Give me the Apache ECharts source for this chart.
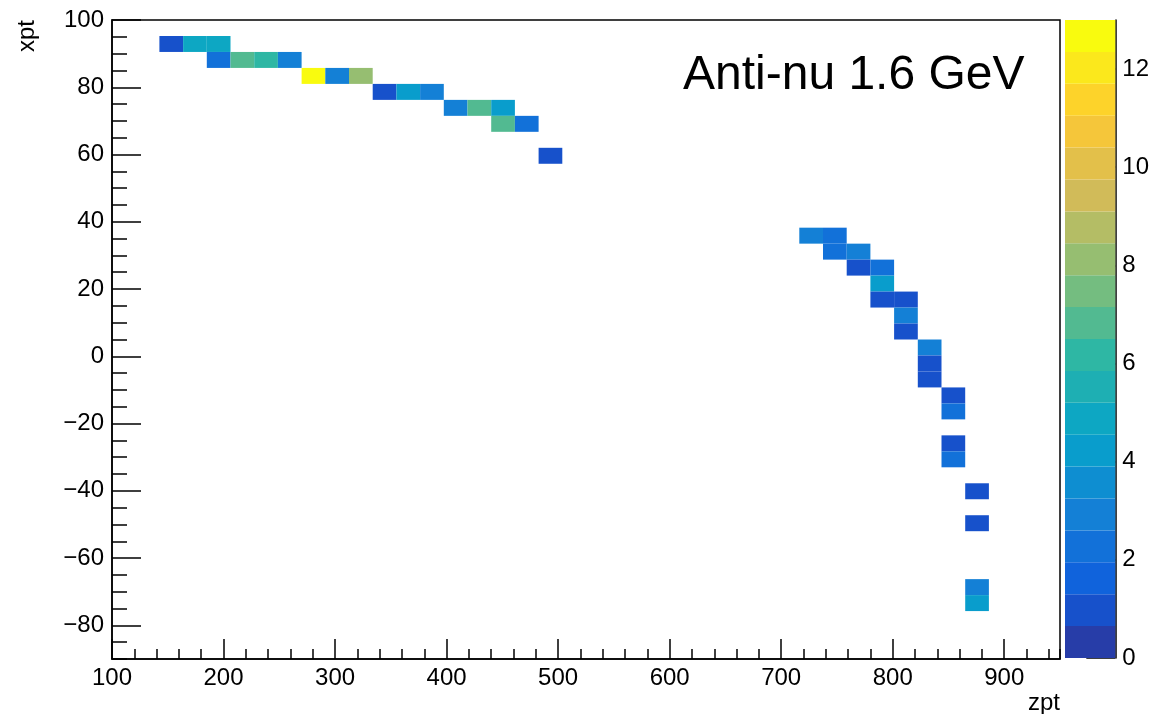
<!DOCTYPE html>
<html>
<head>
<meta charset="utf-8">
<title>Anti-nu 1.6 GeV</title>
<script src="https://cdn.jsdelivr.net/npm/echarts@6/dist/echarts.min.js"></script>
<style>
  html, body { margin: 0; padding: 0; background: #fff; }
  #chart { width: 1152px; height: 714px; }
</style>
</head>
<body>
<div id="chart"></div>
<script>
// Histogram binning: zpt on the horizontal axis, xpt on the vertical axis
const zptMin = 100, zptMax = 950, zptBins = 40;
const xptMin = -90, xptMax = 100, xptBins = 40;

// Filled bins: zpt bin index, xpt bin index, entries
const cellZBin = [2, 3, 4, 4, 5, 6, 7, 8, 9, 10, 11, 12, 13, 14, 15, 16, 16, 17, 18,
  29, 30, 30, 31, 31, 32, 32, 32, 33, 33, 33, 34, 34, 34, 35, 35, 35, 35, 36, 36, 36, 36];
const cellXBin = [38, 38, 38, 37, 37, 37, 37, 36, 36, 36, 35, 35, 35, 34, 34, 34, 33, 33, 31,
  26, 26, 25, 25, 24, 24, 23, 22, 22, 21, 20, 19, 18, 17, 16, 15, 13, 12, 10, 8, 4, 3];
const cellCount = [1, 5, 5, 2, 7, 6, 3, 13, 3, 8, 1, 4, 3, 3, 7, 4, 7, 2, 1,
  3, 2, 2, 3, 1, 2, 4, 1, 1, 3, 1, 3, 1, 1, 1, 2, 1, 2, 1, 1, 3, 4];

// Axis tick labels
const zptMajorTicks = [100, 200, 300, 400, 500, 600, 700, 800, 900];
const xptMajorTicks = [-80, -60, -40, -20, 0, 20, 40, 60, 80, 100];
const countTicks = [0, 2, 4, 6, 8, 10, 12];

// Colour scale
const countMax = 13;
const nContours = 20;

// "Bird" palette stops
const birdStops = [0, 0.125, 0.25, 0.375, 0.5, 0.625, 0.75, 0.875, 1];
const birdR = [0.2082, 0.0592, 0.0780, 0.0232, 0.1802, 0.5301, 0.8186, 0.9956, 0.9764];
const birdG = [0.1664, 0.3599, 0.5041, 0.6419, 0.7178, 0.7492, 0.7328, 0.7862, 0.9832];
const birdB = [0.5293, 0.8684, 0.8385, 0.7914, 0.6425, 0.4662, 0.3499, 0.1968, 0.0539];

function birdColor(p) {
  let s = 0;
  while (s < birdStops.length - 2 && p > birdStops[s + 1]) s++;
  const t = (p - birdStops[s]) / (birdStops[s + 1] - birdStops[s]);
  const mix = (a) => Math.round(255 * (a[s] + (a[s + 1] - a[s]) * t));
  return 'rgb(' + mix(birdR) + ',' + mix(birdG) + ',' + mix(birdB) + ')';
}
function bandColor(k) {
  const idx = Math.floor((k + 0.99) * 255 / nContours);
  return birdColor(idx / 254);
}
function countColor(v) {
  const k = Math.min(nContours - 1, Math.floor(v * nContours / countMax + 1e-9));
  return bandColor(k);
}

const zW = (zptMax - zptMin) / zptBins;
const xW = (xptMax - xptMin) / xptBins;
const cellData = cellCount.map((c, n) => [
  zptMin + (cellZBin[n] + 0.5) * zW,
  xptMin + (cellXBin[n] + 0.5) * xW,
  c
]);
const bandData = [];
for (let k = 0; k < nContours; k++) bandData.push([0.5, (k + 0.5) * countMax / nContours, k]);

const FONT = '"Liberation Sans", Arial, Helvetica, sans-serif';
const black = '#000';
const lineBlack = { color: black, width: 1.5 };
const labelStyle = { color: black, fontSize: 24, fontFamily: FONT };
const minus = (v) => String(v).replace('-', '\u2212');

const chart = echarts.init(document.getElementById('chart'), null, { renderer: 'canvas' });

chart.setOption({
  animation: false,
  backgroundColor: '#fff',
  grid: [
    { left: 112, top: 20, width: 948, height: 639, show: true,
      borderColor: black, borderWidth: 1.5, backgroundColor: 'transparent' },
    { left: 1065, top: 20, width: 54, height: 638 }
  ],
  xAxis: [
    { // minor ticks
      gridIndex: 0, type: 'value', position: 'bottom', min: zptMin, max: zptMax, interval: 20,
      axisLine: { show: true, onZero: false, lineStyle: lineBlack },
      axisTick: { show: true, inside: true, length: 10, lineStyle: lineBlack },
      axisLabel: { show: false }, splitLine: { show: false }
    },
    { // major ticks and labels
      gridIndex: 0, type: 'value', position: 'bottom', min: zptMin, max: zptMax,
      axisLine: { show: false, onZero: false },
      axisTick: { show: true, inside: true, length: 20, lineStyle: lineBlack, customValues: zptMajorTicks },
      axisLabel: Object.assign({ show: true, margin: 7, customValues: zptMajorTicks }, labelStyle),
      splitLine: { show: false }
    },
    { gridIndex: 1, type: 'value', min: 0, max: 1, show: false }
  ],
  yAxis: [
    { // minor ticks
      gridIndex: 0, type: 'value', position: 'left', min: xptMin, max: xptMax, interval: 5,
      axisLine: { show: true, onZero: false, lineStyle: lineBlack },
      axisTick: { show: true, inside: true, length: 15, lineStyle: lineBlack },
      axisLabel: { show: false }, splitLine: { show: false }
    },
    { // major ticks and labels
      gridIndex: 0, type: 'value', position: 'left', min: xptMin, max: xptMax,
      axisLine: { show: false, onZero: false },
      axisTick: { show: true, inside: true, length: 29, lineStyle: lineBlack, customValues: xptMajorTicks },
      axisLabel: Object.assign({ show: true, margin: 8, padding: [4, 0, 0, 0],
        customValues: xptMajorTicks, formatter: minus }, labelStyle),
      splitLine: { show: false }
    },
    { // colour scale axis
      gridIndex: 1, type: 'value', position: 'right', min: 0, max: countMax,
      axisLine: { show: true, onZero: false, lineStyle: lineBlack },
      axisTick: { show: true, inside: true, length: 29, lineStyle: lineBlack, customValues: countTicks },
      axisLabel: Object.assign({ show: true, margin: 7, padding: [4, 0, 0, 0],
        customValues: countTicks }, labelStyle),
      splitLine: { show: false }
    }
  ],
  series: [
    {
      type: 'custom', name: 'entries', xAxisIndex: 0, yAxisIndex: 0, silent: true,
      encode: { x: 0, y: 1 },
      data: cellData,
      renderItem: function (params, api) {
        const zc = api.value(0), xc = api.value(1), v = api.value(2);
        const tl = api.coord([zc - zW / 2, xc + xW / 2]);
        const br = api.coord([zc + zW / 2, xc - xW / 2]);
        return {
          type: 'rect',
          shape: { x: tl[0], y: tl[1], width: br[0] - tl[0], height: br[1] - tl[1] },
          style: { fill: countColor(v) }
        };
      }
    },
    {
      type: 'custom', name: 'scale', xAxisIndex: 2, yAxisIndex: 2, silent: true,
      encode: { x: 0, y: 1 },
      data: bandData,
      renderItem: function (params, api) {
        const k = api.value(2);
        const lo = k * countMax / nContours, hi = (k + 1) * countMax / nContours;
        const tl = api.coord([0, hi]);
        const br = api.coord([1, lo]);
        return {
          type: 'rect',
          shape: { x: tl[0], y: tl[1], width: br[0] - tl[0], height: br[1] - tl[1] },
          style: { fill: bandColor(k) }
        };
      }
    }
  ],
  graphic: [
    { type: 'text', left: 683, top: 52, z: 10,
      style: { text: 'Anti-nu 1.6 GeV', fill: black, font: '48px ' + FONT } },
    { type: 'text', x: 1060, y: 703, z: 10,
      style: { text: 'zpt', fill: black, font: '24px ' + FONT, textAlign: 'right', textVerticalAlign: 'middle' } },
    { type: 'text', x: 27, y: 20, rotation: Math.PI / 2, z: 10,
      style: { text: 'xpt', fill: black, font: '24px ' + FONT, textAlign: 'right', textVerticalAlign: 'middle' } }
  ]
});
</script>
</body>
</html>
